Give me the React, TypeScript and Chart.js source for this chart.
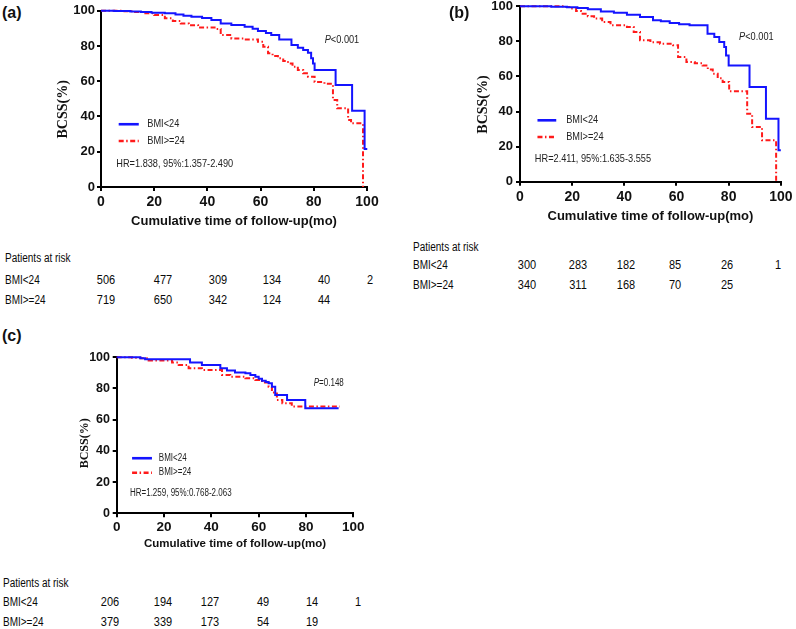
import React, { useEffect, useRef } from "react";
import { Chart, registerables } from "chart.js";
Chart.register(...registerables);

// ---------------- DATA ----------------
const X_TICKS = [0, 20, 40, 60, 80, 100];
const Y_TICKS = [0, 20, 40, 60, 80, 100];
const SERIES_NAMES = ["BMI<24", "BMI>=24"];

// Panel (a)
const A_LOW_T = [0, 5, 11, 15, 19, 24, 28, 31, 34, 38, 41.5, 45, 49, 54, 57, 59, 62, 64, 67, 71.6, 74, 76, 77.8, 79, 79.7, 80.3, 88.2, 94.4, 99.1, 100.1];
const A_LOW_S = [100, 99.8, 99.5, 99.2, 98.9, 98.5, 97.8, 97.2, 96.6, 95.8, 94.7, 92.8, 91.9, 90.9, 89.8, 88.5, 87.4, 86.2, 83.7, 80.5, 79, 77.7, 76.2, 73, 70, 66.4, 57.8, 43.3, 21.6, 21.6];
const A_HIGH_T = [0, 8, 12, 16, 20, 24, 27, 30, 33, 36.5, 42.7, 45, 49, 54, 59, 61, 62.8, 64.5, 66.5, 68.5, 70.3, 72, 74, 76, 77.8, 80.3, 84, 87.2, 88.8, 92.9, 94, 98.5];
const A_HIGH_S = [100, 99.7, 99.2, 98.5, 97.5, 95.7, 94.2, 92.8, 91.8, 90.4, 89.6, 86.2, 84.3, 83.7, 82.4, 79.6, 75.8, 74.3, 73, 71.5, 70.1, 68.2, 66.4, 64.5, 62.6, 59.5, 58.5, 49.3, 44.6, 38, 36.1, 0];

// Panel (b)
const B_LOW_T = [0, 12, 18, 22, 26, 31, 36, 41, 46, 51, 54, 57.4, 61, 65, 71.9, 74.5, 76.4, 78.3, 79, 80, 88, 94.3, 99.1, 100];
const B_LOW_S = [100, 99.8, 99.5, 99, 98.3, 97.1, 96.3, 95.2, 93.9, 92, 91.5, 90.5, 89.8, 89.2, 84.4, 82.5, 79.7, 76.8, 72, 66.3, 54, 35.9, 17.9, 17.9];
const B_HIGH_T = [0, 17, 19.6, 21.5, 23.4, 26, 28.4, 31.5, 34.7, 41, 43.6, 46, 50, 53.7, 58.7, 60.6, 63.8, 67, 70, 72, 73.9, 75.8, 77.7, 80.2, 87.1, 89, 92.8, 98.2];
const B_HIGH_S = [100, 99.6, 98.7, 97.3, 95.8, 94.3, 93, 91, 89.2, 88.2, 85.4, 80.6, 79.5, 78.7, 77.8, 71.1, 68.3, 67.5, 66.3, 64, 61.6, 59, 56.8, 51.5, 38.8, 31.2, 23.6, 0];

// Panel (c)
const C_LOW_T = [0, 10, 12, 31, 36, 43.8, 46.6, 50, 54.4, 56.5, 58.6, 60, 61.4, 63, 64.2, 65.6, 67, 72, 79.7, 93.8];
const C_LOW_S = [100, 99.4, 98.7, 96.6, 95.1, 93, 91.5, 90.2, 89.7, 88.6, 87.6, 86.2, 85, 84.2, 83.3, 81.2, 75.9, 72.6, 67.3, 67.3];
const C_HIGH_T = [0, 6.5, 10, 13.5, 23.4, 26.2, 30.4, 36, 44.5, 48, 54.4, 58.6, 61.4, 64.2, 65.6, 67.7, 70, 74, 94.3];
const C_HIGH_S = [100, 99.7, 99.4, 97.9, 96.6, 95.1, 93, 91.9, 88.7, 87.6, 86.5, 85.5, 83.8, 81.2, 77.4, 72.6, 70.5, 68.4, 68.4];

// Patients at risk
const RISK_A_LOW = [506, 477, 309, 134, 40, 2];
const RISK_A_HIGH = [719, 650, 342, 124, 44];
const RISK_B_LOW = [300, 283, 182, 85, 26, 1];
const RISK_B_HIGH = [340, 311, 168, 70, 25];
const RISK_C_LOW = [206, 194, 127, 49, 14, 1];
const RISK_C_HIGH = [379, 339, 173, 54, 19];

const P_TEXTS = ["<0.001", "<0.001", "=0.148"];
const HR_TEXTS = ["HR=1.838, 95%:1.357-2.490", "HR=2.411, 95%:1.635-3.555", "HR=1.259, 95%:0.768-2.063"];
const X_TITLE = "Cumulative time of follow-up(mo)";
const Y_TITLE = "BCSS(%)";
const RISK_TITLE = "Patients at risk";

// ---------------- STYLE / LAYOUT ----------------
const BLUE = "#1414ff";
const RED = "#ff1a1a";
const RED_DASH = [5, 2.5, 1.5, 2.5];
const SANS = "'Liberation Sans', Arial, Helvetica, sans-serif";
const SERIF = "'Liberation Serif', 'Times New Roman', serif";

type Panel = {
  low: { x: number; y: number }[];
  high: { x: number; y: number }[];
  p: string;
  hr: string;
  box: { left: number; top: number; w: number; h: number };
  padTop: number;
  padRight: number;
  yWidth: number;
  xHeight: number;
  yTickPad: number;
  xTickPad: number;
  xTitlePad: number;
  yTitleX: number;
  yTitleShift: number;
  xTickSize: number;
  yTickSize: number;
  xTitleSize: number;
  yTitleSize: number;
  annSize: number;
  ann: { p: [number, number]; leg: [number, number, number, number, number]; hr: [number, number] };
};

const pts = (t: number[], s: number[]) => t.map((x, i) => ({ x, y: s[i] }));

const PANELS: Panel[] = [
  {
    low: pts(A_LOW_T, A_LOW_S),
    high: pts(A_HIGH_T, A_HIGH_S),
    p: P_TEXTS[0],
    hr: HR_TEXTS[0],
    box: { left: 40, top: -10, w: 345, h: 240 },
    padTop: 20.7,
    padRight: 18,
    yWidth: 61,
    xHeight: 43,
    yTickPad: 2,
    xTickPad: 3.2,
    xTitlePad: 1.2,
    yTitleX: 23,
    yTitleShift: 10.5,
    xTickSize: 14,
    yTickSize: 13,
    xTitleSize: 13,
    yTitleSize: 14,
    annSize: 11.5,
    ann: { p: [84.1, 83.4], leg: [6.65, 14.2, 17.4, 35.6, 26.1], hr: [5.75, 12.9] },
  },
  {
    low: pts(B_LOW_T, B_LOW_S),
    high: pts(B_HIGH_T, B_HIGH_S),
    p: P_TEXTS[1],
    hr: HR_TEXTS[1],
    box: { left: 460, top: -10, w: 336, h: 235 },
    padTop: 16.3,
    padRight: 12,
    yWidth: 60,
    xHeight: 43.3,
    yTickPad: 3,
    xTickPad: 3.5,
    xTitlePad: 0.7,
    yTitleX: 23,
    yTitleShift: 10.5,
    xTickSize: 14,
    yTickSize: 13,
    xTitleSize: 13,
    yTitleSize: 14,
    annSize: 11.5,
    ann: { p: [84, 82.5], leg: [6.7, 13.9, 17.7, 35, 25.5], hr: [5.7, 13.1] },
  },
  {
    low: pts(C_LOW_T, C_LOW_S),
    high: pts(C_HIGH_T, C_HIGH_S),
    p: P_TEXTS[2],
    hr: HR_TEXTS[2],
    box: { left: 60, top: 340, w: 310, h: 215 },
    padTop: 17.3,
    padRight: 16.7,
    yWidth: 56.7,
    xHeight: 41.7,
    yTickPad: 2.7,
    xTickPad: 2,
    xTitlePad: 4.6,
    yTitleX: 25,
    yTitleShift: 8,
    xTickSize: 13.5,
    yTickSize: 12.5,
    xTitleSize: 11.5,
    yTitleSize: 12,
    annSize: 10,
    ann: { p: [83.3, 83.3], leg: [6.5, 14.9, 17.8, 35.3, 26], hr: [5.6, 12.8] },
  },
];

const RISK_TABLES = [
  { low: RISK_A_LOW, high: RISK_A_HIGH, labelX: 5, yHead: 258, yRows: [279.7, 299.7], colX: [106, 163, 218, 272, 324, 370] },
  { low: RISK_B_LOW, high: RISK_B_HIGH, labelX: 413, yHead: 246.7, yRows: [264.5, 285], colX: [527, 578, 626, 675, 727, 778] },
  { low: RISK_C_LOW, high: RISK_C_HIGH, labelX: 3, yHead: 583, yRows: [602, 622], colX: [110, 163, 210, 263, 312, 358] },
];

const PANEL_LABELS = [
  { text: "(a)", x: 2, y: 13 },
  { text: "(b)", x: 449, y: 13 },
  { text: "(c)", x: 2, y: 336 },
];

const SQUEEZE = 0.8;

function drawSqueezed(ctx: CanvasRenderingContext2D, text: string, x: number, y: number, font: string) {
  ctx.save();
  ctx.font = font;
  ctx.textBaseline = "middle";
  ctx.textAlign = "left";
  ctx.translate(x, y);
  ctx.scale(SQUEEZE, 1);
  ctx.fillText(text, 0, 0);
  const w = ctx.measureText(text).width * SQUEEZE;
  ctx.restore();
  return w;
}

function KMPanel({ panel }: { panel: Panel }) {
  const ref = useRef<HTMLCanvasElement>(null);
  useEffect(() => {
    const p = panel;
    const annotPlugin = {
      id: "kmAnnot",
      afterDraw(chart: any) {
        const { ctx, chartArea } = chart;
        const xs = chart.scales.x;
        const ys = chart.scales.y;
        const f = `${p.annSize}px ${SANS}`;
        const fi = `italic ${p.annSize}px ${SANS}`;
        ctx.save();
        // y axis title
        ctx.save();
        ctx.fillStyle = "#111";
        ctx.font = `bold ${p.yTitleSize}px ${SERIF}`;
        ctx.textAlign = "center";
        ctx.textBaseline = "middle";
        ctx.translate(p.yTitleX, (chartArea.top + chartArea.bottom) / 2 + p.yTitleShift);
        ctx.rotate(-Math.PI / 2);
        ctx.fillText(Y_TITLE, 0, 0);
        ctx.restore();

        ctx.fillStyle = "#222";
        // P value
        const px = xs.getPixelForValue(p.ann.p[0]);
        const py = ys.getPixelForValue(p.ann.p[1]);
        const wP = drawSqueezed(ctx, "P", px, py, fi);
        drawSqueezed(ctx, p.p, px + wP, py, f);
        // legend
        const [x1, x2, xt, yb, yr] = p.ann.leg;
        const lx1 = xs.getPixelForValue(x1);
        const lx2 = xs.getPixelForValue(x2);
        const ltx = xs.getPixelForValue(xt);
        const rows: [number, string, number[]][] = [
          [yb, BLUE, []],
          [yr, RED, RED_DASH],
        ];
        rows.forEach(([yv, col, dash], i) => {
          const yy = ys.getPixelForValue(yv);
          ctx.save();
          ctx.strokeStyle = col;
          ctx.lineWidth = 2.6;
          ctx.setLineDash(dash);
          ctx.beginPath();
          ctx.moveTo(lx1, yy);
          ctx.lineTo(lx2, yy);
          ctx.stroke();
          ctx.restore();
          drawSqueezed(ctx, SERIES_NAMES[i], ltx, yy, f);
        });
        // HR
        drawSqueezed(ctx, p.hr, xs.getPixelForValue(p.ann.hr[0]), ys.getPixelForValue(p.ann.hr[1]), f);
        ctx.restore();
      },
    };

    const chart = new Chart(ref.current as HTMLCanvasElement, {
      type: "line",
      data: {
        datasets: [
          {
            label: SERIES_NAMES[0],
            data: p.low,
            borderColor: BLUE,
            borderWidth: 2,
            stepped: "before",
            pointRadius: 0,
            fill: false,
            clip: false as any,
          },
          {
            label: SERIES_NAMES[1],
            data: p.high,
            borderColor: RED,
            borderWidth: 2,
            borderDash: RED_DASH,
            stepped: "before",
            pointRadius: 0,
            fill: false,
            clip: false as any,
          },
        ],
      },
      options: {
        responsive: false,
        animation: false,
        devicePixelRatio: 1,
        events: [],
        layout: { padding: { left: 0, top: p.padTop, right: p.padRight, bottom: 0 } },
        plugins: { legend: { display: false }, tooltip: { enabled: false }, title: { display: false } },
        scales: {
          x: {
            type: "linear",
            min: 0,
            max: 100,
            afterBuildTicks: (s: any) => {
              s.ticks = X_TICKS.map((v) => ({ value: v }));
            },
            ticks: { color: "#111", padding: p.xTickPad, font: { family: SANS, size: p.xTickSize, weight: "bold" }, maxRotation: 0 },
            grid: { drawOnChartArea: false, drawTicks: true, tickLength: 4, color: "#000", lineWidth: 2 },
            border: { display: true, color: "#000", width: 2 },
            title: {
              display: true,
              text: X_TITLE,
              color: "#111",
              font: { family: SANS, size: p.xTitleSize, weight: "bold" },
              padding: { top: 0, bottom: p.xTitlePad },
            },
            afterFit: (s: any) => {
              s.height = p.xHeight;
            },
          },
          y: {
            type: "linear",
            min: 0,
            max: 100,
            afterBuildTicks: (s: any) => {
              s.ticks = Y_TICKS.map((v) => ({ value: v }));
            },
            ticks: { color: "#111", padding: p.yTickPad, font: { family: SANS, size: p.yTickSize, weight: "bold" } },
            grid: { drawOnChartArea: false, drawTicks: true, tickLength: 4, color: "#000", lineWidth: 2 },
            border: { display: true, color: "#000", width: 2 },
            title: { display: false },
            afterFit: (s: any) => {
              s.width = p.yWidth;
            },
          },
        },
      } as any,
      plugins: [annotPlugin],
    });
    return () => chart.destroy();
  }, [panel]);
  return (
    <canvas
      ref={ref}
      width={panel.box.w}
      height={panel.box.h}
      style={{ position: "absolute", left: panel.box.left, top: panel.box.top, width: panel.box.w, height: panel.box.h }}
    />
  );
}

const riskText: React.CSSProperties = {
  position: "absolute",
  fontFamily: SANS,
  fontSize: 12.5,
  color: "#0a0a0a",
  whiteSpace: "nowrap",
  lineHeight: 1,
};

function RiskTable({ t }: { t: (typeof RISK_TABLES)[number] }) {
  const rows = [t.low, t.high];
  return (
    <>
      <div style={{ ...riskText, left: t.labelX, top: t.yHead, transform: `translateY(-50%) scaleX(${SQUEEZE})`, transformOrigin: "left center" }}>
        {RISK_TITLE}
      </div>
      {rows.map((vals, r) => (
        <React.Fragment key={r}>
          <div style={{ ...riskText, left: t.labelX, top: t.yRows[r], transform: `translateY(-50%) scaleX(${SQUEEZE})`, transformOrigin: "left center" }}>
            {SERIES_NAMES[r]}
          </div>
          {vals.map((v, i) => (
            <div
              key={i}
              style={{ ...riskText, left: t.colX[i], top: t.yRows[r], transform: `translate(-50%, -50%) scaleX(0.88)`, transformOrigin: "center center" }}
            >
              {v}
            </div>
          ))}
        </React.Fragment>
      ))}
    </>
  );
}

export default function App() {
  return (
    <div style={{ position: "fixed", left: 0, top: 0, width: 796, height: 629, background: "#fff", overflow: "hidden" }}>
      {PANELS.map((p, i) => (
        <KMPanel key={i} panel={p} />
      ))}
      {RISK_TABLES.map((t, i) => (
        <RiskTable key={i} t={t} />
      ))}
      {PANEL_LABELS.map((l) => (
        <div
          key={l.text}
          style={{ position: "absolute", left: l.x, top: l.y, transform: "translateY(-50%)", fontFamily: SANS, fontWeight: "bold", fontSize: 16, lineHeight: 1, color: "#111" }}
        >
          {l.text}
        </div>
      ))}
    </div>
  );
}
